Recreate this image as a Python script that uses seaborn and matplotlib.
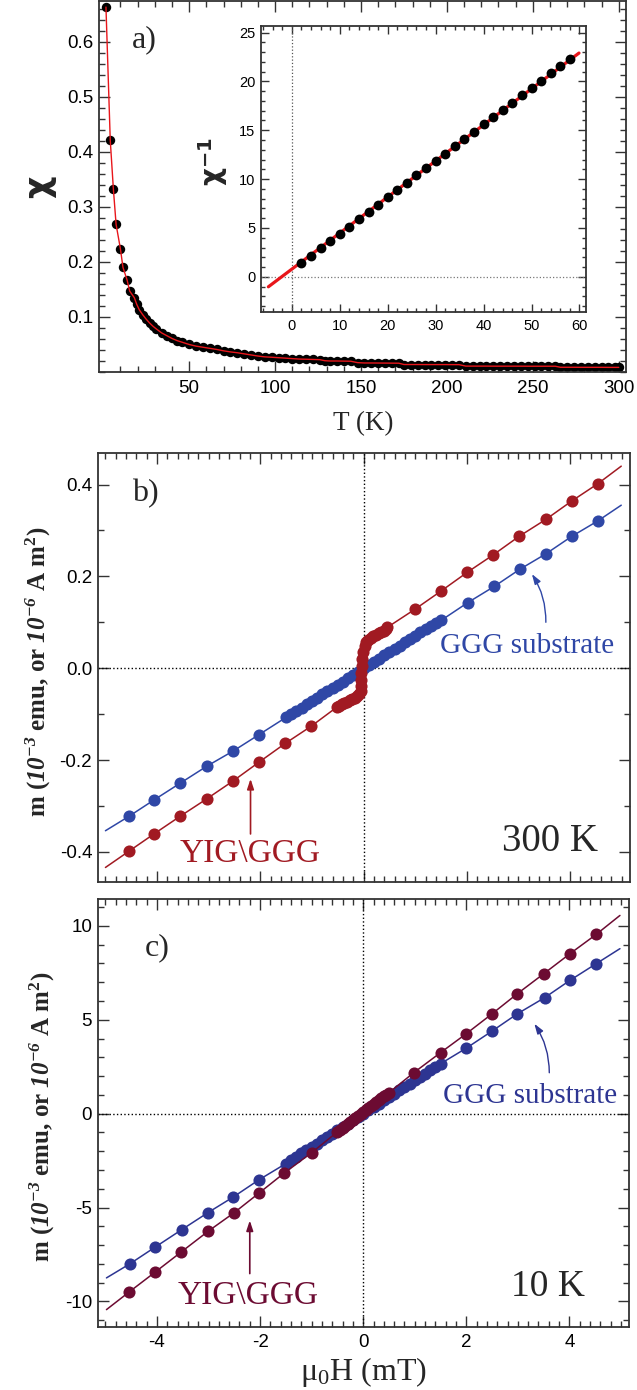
import numpy as np
import pandas as pd
import matplotlib
matplotlib.use('Agg')
import matplotlib.pyplot as plt
import matplotlib.ticker as mtick
import seaborn as sns

# ------------------------------------------------------------
# data
# ------------------------------------------------------------
# a) chi(T) of the GGG substrate
T_chi = [1.6, 4.1, 5.9, 7.5, 10.0, 11.5, 13.9, 15.4, 18.1, 19.5,
         21, 23, 25, 27, 29, 31, 34, 37, 40, 43, 46, 50, 54, 58,
         62, 66, 70, 74, 78, 82, 86, 90, 94, 98, 102, 106, 110, 114,
         118, 122, 126, 129, 132, 136, 140, 144, 148, 152, 156, 160,
         164, 168, 172, 175, 179, 183, 187, 191, 195, 199, 203, 207,
         211, 215, 219, 223, 227, 231, 235, 239, 243, 247, 251, 255,
         259, 263, 266, 270, 274, 278, 282, 286, 290, 294, 298, 300]
chi = [0.663, 0.421, 0.333, 0.268, 0.224, 0.190, 0.167, 0.147, 0.135, 0.123,
       0.113, 0.104, 0.096, 0.089, 0.083, 0.078, 0.071, 0.066, 0.061, 0.057, 0.054, 0.050, 0.047, 0.045,
       0.043, 0.041, 0.0385, 0.0365, 0.035, 0.033, 0.031, 0.029, 0.0275, 0.0268, 0.026, 0.0252, 0.0243, 0.0235,
       0.0232, 0.0228, 0.0224, 0.0205, 0.0200, 0.0200, 0.0198, 0.0196, 0.0170, 0.0164, 0.0164, 0.0163,
       0.0162, 0.0161, 0.0160, 0.0136, 0.0136, 0.0136, 0.0135, 0.0135, 0.0135, 0.0135, 0.0134, 0.0134,
       0.0107, 0.0107, 0.0107, 0.0107, 0.0106, 0.0106, 0.0106, 0.0106, 0.0106, 0.0105, 0.0105, 0.0105,
       0.0105, 0.0105, 0.0086, 0.0086, 0.0086, 0.0085, 0.0085, 0.0085, 0.0085, 0.0084, 0.0084, 0.0084]

# inset: 1/chi vs T
T_inv = [2, 4, 6, 8, 10, 12, 14, 16, 18, 20, 22, 24, 26, 28, 30,
         32, 34, 36, 38, 40, 42, 44, 46, 48, 50, 52, 54, 56, 58]
chi_inv = [1.41, 2.15, 2.90, 3.65, 4.39, 5.14, 5.89, 6.63, 7.38, 8.13, 8.87, 9.62, 10.37, 11.12, 11.86,
           12.61, 13.36, 14.10, 14.85, 15.60, 16.34, 17.09, 17.84, 18.58, 19.33, 20.08, 20.82, 21.57, 22.32]
T_inv_fit = [-4.9, 59.9]
chi_inv_fit = [-1.02, 22.9]

# b) 300 K
H_b_ggg = [-4.55, -4.06, -3.56, -3.03, -2.52, -2.03,
           -1.5, -1.4, -1.3, -1.2, -1.1, -1.0, -0.9, -0.8, -0.7, -0.6, -0.5, -0.4, -0.3, -0.2, -0.1,
           0.0, 0.1, 0.2, 0.3, 0.4, 0.5, 0.6, 0.7, 0.8, 0.9, 1.0, 1.1, 1.2, 1.3, 1.4, 1.5,
           2.02, 2.53, 3.02, 3.53, 4.03, 4.54]
m_b_ggg = [-0.323, -0.287, -0.251, -0.213, -0.180, -0.145,
           -0.107, -0.100, -0.093, -0.086, -0.079, -0.072, -0.064, -0.057, -0.050, -0.043, -0.036, -0.029, -0.022, -0.015, -0.008,
           0.000, 0.007, 0.014, 0.021, 0.028, 0.035, 0.042, 0.049, 0.056, 0.063, 0.071, 0.078, 0.085, 0.092, 0.099, 0.104,
           0.143, 0.178, 0.215, 0.249, 0.287, 0.321]
H_b_ggg_fit = [-5.0, 4.99]
m_b_ggg_fit = [-0.354, 0.355]

H_b_yig = [-4.55, -4.06, -3.56, -3.03, -2.52, -2.03, -1.52, -1.01,
           -0.52, -0.47, -0.42, -0.37, -0.32, -0.27, -0.22, -0.17, -0.12, -0.08,
           -0.06, -0.06, -0.05, -0.05, -0.04, -0.03, -0.01,
           0.02, 0.05, 0.09, 0.14, 0.19, 0.24, 0.29, 0.34, 0.39, 0.43, 0.46,
           0.99, 1.50, 2.01, 2.50, 3.01, 3.53, 4.03, 4.54]
m_b_yig = [-0.399, -0.361, -0.323, -0.284, -0.245, -0.205, -0.164, -0.126,
           -0.085, -0.082, -0.079, -0.076, -0.073, -0.070, -0.067, -0.064, -0.061, -0.057,
           -0.050, -0.038, -0.025, -0.010, 0.005, 0.020, 0.035,
           0.048, 0.057, 0.062, 0.066, 0.070, 0.073, 0.076, 0.079, 0.082, 0.085, 0.089,
           0.128, 0.168, 0.209, 0.246, 0.287, 0.324, 0.364, 0.402]
H_b_yig_fit = [-5.0, 4.99]
m_b_yig_fit = [-0.434, 0.440]

# c) 10 K
H_c_ggg = [-4.52, -4.03, -3.52, -3.01, -2.52, -2.02,
           -1.5, -1.4, -1.3, -1.2, -1.1, -1.0, -0.9, -0.8, -0.7, -0.6, -0.5, -0.4, -0.3, -0.2, -0.1,
           0.0, 0.1, 0.2, 0.3, 0.4, 0.5, 0.6, 0.7, 0.8, 0.9, 1.0, 1.1, 1.2, 1.3, 1.4, 1.5,
           2.00, 2.50, 2.99, 3.52, 4.01, 4.52]
m_c_ggg = [-7.99, -7.10, -6.18, -5.27, -4.44, -3.52,
           -2.66, -2.48, -2.30, -2.12, -1.95, -1.77, -1.59, -1.42, -1.24, -1.06, -0.89, -0.71, -0.53, -0.35, -0.18,
           0.00, 0.18, 0.35, 0.53, 0.71, 0.89, 1.06, 1.24, 1.42, 1.59, 1.77, 1.95, 2.12, 2.30, 2.48, 2.66,
           3.49, 4.40, 5.32, 6.18, 7.10, 7.99]
H_c_ggg_fit = [-4.98, 4.98]
m_c_ggg_fit = [-8.75, 8.79]

H_c_yig = [-4.54, -4.03, -3.53, -3.01, -2.50, -2.02, -1.53, -1.00,
           -0.50, -0.45, -0.40, -0.35, -0.30, -0.25, -0.20, -0.15, -0.10, -0.05,
           0.00, 0.05, 0.10, 0.15, 0.20, 0.25, 0.30, 0.35, 0.40, 0.45, 0.50,
           0.98, 1.50, 2.00, 2.50, 2.99, 3.50, 4.01, 4.52]
m_c_yig = [-9.50, -8.43, -7.37, -6.27, -5.27, -4.23, -3.16, -2.08,
           -0.97, -0.87, -0.76, -0.66, -0.55, -0.45, -0.34, -0.24, -0.13, -0.03,
           0.08, 0.18, 0.29, 0.39, 0.50, 0.60, 0.71, 0.81, 0.92, 1.02, 1.12,
           2.18, 3.25, 4.26, 5.32, 6.39, 7.45, 8.52, 9.55]
H_c_yig_fit = [-4.98, 4.98]
m_c_yig_fit = [-10.44, 10.56]

# ------------------------------------------------------------
# style
# ------------------------------------------------------------
sns.set_style('ticks')
plt.rcParams['font.family'] = ['Liberation Sans', 'DejaVu Sans']
plt.rcParams['font.serif'] = ['Liberation Serif', 'DejaVu Serif']
plt.rcParams['mathtext.fontset'] = 'custom'
# digits in math go to the rm font -> make it bold italic for the "10^-3" parts
plt.rcParams['mathtext.rm'] = 'serif:italic:bold'
plt.rcParams['mathtext.it'] = 'serif:italic:bold'
plt.rcParams['mathtext.bf'] = 'serif:bold'
plt.rcParams['axes.unicode_minus'] = False

RED_A = '#E8161B'
RED_B = '#A11A22'
BLUE_B = '#2F47A6'
RED_C = '#6C0B32'
BLUE_C = '#2D3592'
SERIF = 'Liberation Serif'

W, H = 637, 1390
fig = plt.figure(figsize=(W / 100, H / 100), dpi=100)


def box(l, t, r, b):
    return [l / W, 1 - b / H, (r - l) / W, (b - t) / H]


def frame(ax, major=8, minor=4.5, size=13.5):
    ax.tick_params(which='both', direction='in', top=True, right=True,
                   width=1.0, color='#333333', labelsize=size, labelcolor='black')
    ax.tick_params(which='major', length=major)
    ax.tick_params(which='minor', length=minor)
    ax.tick_params(axis='y', pad=4)
    ax.tick_params(axis='x', pad=5.5)
    for sp in ax.spines.values():
        sp.set_visible(True)
        sp.set_linewidth(1.3)
        sp.set_color('#333333')


ax_a = fig.add_axes(box(99, 1, 626, 372))
ax_in = fig.add_axes(box(260.7, 25.7, 585.7, 312))
ax_b = fig.add_axes(box(97.7, 453.3, 629.5, 881.7))
ax_c = fig.add_axes(box(97.7, 899.3, 628.7, 1326.7))

# ------------------------------------------------------------
# a) chi(T)
# ------------------------------------------------------------
df_a = pd.DataFrame({'T': T_chi, 'chi': chi})
sns.scatterplot(data=df_a, x='T', y='chi', ax=ax_a, color='black', s=46,
                linewidth=0, zorder=2)
sns.lineplot(data=df_a, x='T', y='chi', ax=ax_a, color=RED_A, lw=1.0,
             sort=False, estimator=None, zorder=3)
ax_a.set_xlim(-2.45, 304.2)
ax_a.set_ylim(0, 0.674)
ax_a.xaxis.set_major_locator(mtick.FixedLocator([50, 100, 150, 200, 250, 300]))
ax_a.xaxis.set_minor_locator(mtick.FixedLocator(np.arange(10, 301, 10)))
ax_a.yaxis.set_major_locator(mtick.FixedLocator([0.1, 0.2, 0.3, 0.4, 0.5, 0.6]))
ax_a.yaxis.set_minor_locator(mtick.MultipleLocator(0.02))
ax_a.yaxis.set_major_formatter(mtick.FormatStrFormatter('%.1f'))
frame(ax_a)
ax_a.set_xlabel('T (K)', family=SERIF, fontsize=19.5, va='center')
ax_a.xaxis.set_label_coords(0.502, -0.139)
ax_a.set_ylabel('χ', family='DejaVu Sans', fontweight='bold', fontsize=25, va='center')
ax_a.yaxis.set_label_coords(-0.113, 0.50)
ax_a.text(16.8, 0.603, 'a)', family=SERIF, fontsize=23, ha='left', va='center')

# inset 1/chi
df_in = pd.DataFrame({'T': T_inv, 'inv': chi_inv})
df_fit = pd.DataFrame({'T': T_inv_fit, 'inv': chi_inv_fit})
ax_in.axhline(0, color='#777777', lw=0.9, ls=':', zorder=1)
ax_in.axvline(0, color='#555555', lw=0.9, ls=':', zorder=1)
sns.lineplot(data=df_fit, x='T', y='inv', ax=ax_in, color=RED_A, lw=2.3,
             sort=False, estimator=None, zorder=2)
sns.scatterplot(data=df_in, x='T', y='inv', ax=ax_in, color='black', s=50,
                linewidth=0, zorder=3)
ax_in.set_xlim(-6.5, 61.3)
ax_in.set_ylim(-3.6, 25.7)
ax_in.xaxis.set_major_locator(mtick.MultipleLocator(10))
ax_in.xaxis.set_minor_locator(mtick.MultipleLocator(2))
ax_in.yaxis.set_major_locator(mtick.MultipleLocator(5))
ax_in.yaxis.set_minor_locator(mtick.MultipleLocator(1))
frame(ax_in, major=6, minor=3, size=10.5)
ax_in.tick_params(axis='x', pad=5)
ax_in.set_xlabel('')
ax_in.set_ylabel('χ$^{\\mathregular{-1}}$', family='DejaVu Sans', fontweight='bold',
                 fontsize=20, va='center')
ax_in.yaxis.set_label_coords(-0.145, 0.525)

# ------------------------------------------------------------
# b) and c) m(H)
# ------------------------------------------------------------
ylab = r'm ($10^{-3}$ emu, or $10^{-6}$ A m$^{\mathbf{2}}$)'


def mh_panel(ax, H_g, m_g, Hg_fit, mg_fit, H_y, m_y, Hy_fit, my_fit, c_g, c_y):
    ax.axhline(0, color='black', lw=1.0, ls=':', zorder=1)
    ax.axvline(0, color='black', lw=1.0, ls=':', zorder=1)
    g_line = pd.DataFrame({'H': [Hg_fit[0]] + H_g + [Hg_fit[1]],
                           'm': [mg_fit[0]] + m_g + [mg_fit[1]]})
    y_line = pd.DataFrame({'H': [Hy_fit[0]] + H_y + [Hy_fit[1]],
                           'm': [my_fit[0]] + m_y + [my_fit[1]]})
    sns.lineplot(data=g_line, x='H', y='m', ax=ax, color=c_g, lw=1.1,
                 sort=False, estimator=None, zorder=2)
    sns.scatterplot(x=H_g, y=m_g, ax=ax, color=c_g, s=76, linewidth=0, zorder=3)
    sns.lineplot(data=y_line, x='H', y='m', ax=ax, color=c_y, lw=1.1,
                 sort=False, estimator=None, zorder=4)
    sns.scatterplot(x=H_y, y=m_y, ax=ax, color=c_y, s=76, linewidth=0, zorder=5)
    ax.set_xlim(-5.15, 5.15)
    ax.xaxis.set_major_locator(mtick.MultipleLocator(2))
    ax.xaxis.set_minor_locator(mtick.MultipleLocator(0.2))
    frame(ax)


mh_panel(ax_b, H_b_ggg, m_b_ggg, H_b_ggg_fit, m_b_ggg_fit,
         H_b_yig, m_b_yig, H_b_yig_fit, m_b_yig_fit, BLUE_B, RED_B)
ax_b.set_ylim(-0.465, 0.468)
ax_b.yaxis.set_major_locator(mtick.MultipleLocator(0.2))
ax_b.yaxis.set_minor_locator(mtick.MultipleLocator(0.1))
ax_b.yaxis.set_major_formatter(mtick.FormatStrFormatter('%.1f'))
ax_b.tick_params(labelbottom=False)
ax_b.set_xlabel('')
ax_b.set_ylabel(ylab, family=SERIF, fontweight='bold', fontsize=18, va='center')
ax_b.yaxis.set_label_coords(-0.111, 0.49)
ax_b.text(-4.48, 0.381, 'b)', family=SERIF, fontsize=23, ha='left', va='center')
ax_b.text(2.69, -0.398, '300 K', family=SERIF, fontsize=28, ha='left', va='baseline')
ax_b.text(1.48, 0.032, 'GGG substrate', family=SERIF, fontsize=21, color=BLUE_B,
          ha='left', va='baseline')
ax_b.text(-3.57, -0.423, r'YIG\GGG', family=SERIF, fontsize=24, color=RED_B,
          ha='left', va='baseline')
ax_b.annotate('', xy=(3.26, 0.205), xytext=(3.53, 0.10),
              arrowprops=dict(arrowstyle='-|>,head_length=0.6,head_width=0.2',
                              color=BLUE_B, lw=1.0, shrinkA=0, shrinkB=0,
                              connectionstyle='arc3,rad=0.15'))
ax_b.annotate('', xy=(-2.19, -0.241), xytext=(-2.19, -0.361),
              arrowprops=dict(arrowstyle='-|>,head_length=0.6,head_width=0.2',
                              color=RED_B, lw=1.2, shrinkA=0, shrinkB=0))

mh_panel(ax_c, H_c_ggg, m_c_ggg, H_c_ggg_fit, m_c_ggg_fit,
         H_c_yig, m_c_yig, H_c_yig_fit, m_c_yig_fit, BLUE_C, RED_C)
ax_c.set_ylim(-11.35, 11.42)
ax_c.yaxis.set_major_locator(mtick.MultipleLocator(5))
ax_c.yaxis.set_minor_locator(mtick.MultipleLocator(1))
ax_c.xaxis.set_major_formatter(mtick.FormatStrFormatter('%d'))
ax_c.set_xlabel('μ$_{\\mathregular{0}}$H (mT)', family=SERIF, fontsize=23, va='baseline')
ax_c.xaxis.set_label_coords(0.501, -0.125)
ax_c.set_ylabel(ylab, family=SERIF, fontweight='bold', fontsize=18, va='center')
ax_c.yaxis.set_label_coords(-0.105, 0.49)
ax_c.text(-4.23, 8.83, 'c)', family=SERIF, fontsize=23, ha='left', va='center')
ax_c.text(2.87, -9.73, '10 K', family=SERIF, fontsize=27, ha='left', va='baseline')
ax_c.text(1.54, 0.55, 'GGG substrate', family=SERIF, fontsize=21, color=BLUE_C,
          ha='left', va='baseline')
ax_c.text(-3.59, -10.12, r'YIG\GGG', family=SERIF, fontsize=24, color=RED_C,
          ha='left', va='baseline')
ax_c.annotate('', xy=(3.32, 4.79), xytext=(3.61, 2.18),
              arrowprops=dict(arrowstyle='-|>,head_length=0.6,head_width=0.2',
                              color=BLUE_C, lw=1.0, shrinkA=0, shrinkB=0,
                              connectionstyle='arc3,rad=0.15'))
ax_c.annotate('', xy=(-2.20, -5.69), xytext=(-2.20, -8.52),
              arrowprops=dict(arrowstyle='-|>,head_length=0.6,head_width=0.2',
                              color=RED_C, lw=1.2, shrinkA=0, shrinkB=0))

fig.savefig('out.png', dpi=100)
